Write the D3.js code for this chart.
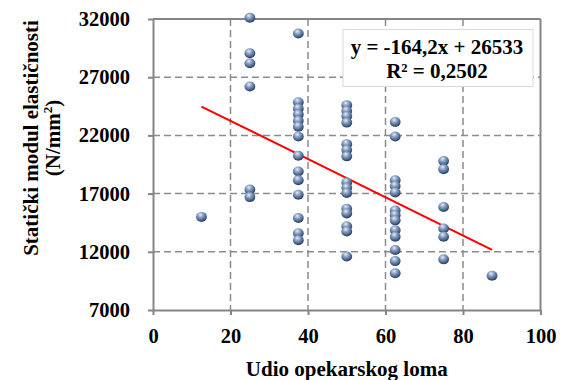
<!DOCTYPE html>
<html>
<head>
<meta charset="utf-8">
<script src="https://cdn.jsdelivr.net/npm/d3@7"></script>
<style>
  html, body { margin: 0; padding: 0; background: #fff; }
  svg { display: block; }
  text { font-family: "Liberation Serif", "Times New Roman", serif; font-weight: bold; fill: #000; }
</style>
</head>
<body>
<svg id="chart" width="562" height="380"></svg>
<script>
// ---- data ----
const udio = [
  12.5,
  25, 25, 25, 25, 25, 25,
  37.5, 37.5, 37.5, 37.5, 37.5, 37.5, 37.5, 37.5, 37.5, 37.5, 37.5, 37.5, 37.5, 37.5,
  50, 50, 50, 50, 50, 50, 50, 50, 50, 50, 50, 50, 50, 50, 50,
  62.5, 62.5, 62.5, 62.5, 62.5, 62.5, 62.5, 62.5, 62.5, 62.5, 62.5, 62.5, 62.5,
  75, 75, 75, 75, 75, 75,
  87.5
];
const modul = [
  15000,
  32100, 29050, 28200, 26200, 17350, 16700,
  30750, 24850, 24300, 23800, 23250, 22750, 21900, 20250, 18900, 18150, 16900, 14900, 13600, 13000,
  24600, 24100, 23650, 23100, 21250, 20750, 20200, 17950, 17500, 17050, 15700, 15300, 14200, 13750, 11600,
  23150, 21900, 18150, 17650, 17100, 15550, 15150, 14700, 13850, 13300, 12150, 11200, 10150,
  19800, 19100, 15850, 14000, 13300, 11350,
  9950
];
const xTicks = [0, 20, 40, 60, 80, 100];
const yTicks = [7000, 12000, 17000, 22000, 27000, 32000];
const trendSlope = -164.2;
const trendIntercept = 26533;
const eqLabel = "y = -164,2x + 26533";
const r2Label = "R² = 0,2502";
const xTitle = "Udio opekarskog loma";
const yTitle1 = "Statički modul elastičnosti";

// ---- layout ----
const W = 562, H = 380;
const m = { left: 153, right: 21.5, top: 19, bottom: 70 };
const pw = W - m.left - m.right, ph = H - m.top - m.bottom;
const svg = d3.select("#chart");
const defs = svg.append("defs");
const grad = defs.append("radialGradient").attr("id", "ball")
  .attr("cx", "42%").attr("cy", "32%").attr("r", "65%").attr("fx", "40%").attr("fy", "28%");
grad.append("stop").attr("offset", "0%").attr("stop-color", "#e8eef7");
grad.append("stop").attr("offset", "35%").attr("stop-color", "#93a9cb");
grad.append("stop").attr("offset", "75%").attr("stop-color", "#4f6a94");
grad.append("stop").attr("offset", "100%").attr("stop-color", "#2c405f");

const x = d3.scaleLinear().domain([0, 100]).range([0, pw]);
const y = d3.scaleLinear().domain([7000, 32000]).range([ph, 0]);
const g = svg.append("g").attr("transform", `translate(${m.left},${m.top})`);

// gridlines
g.append("g").selectAll("line").data(yTicks.slice(1, -1)).join("line")
  .attr("x1", 0).attr("x2", pw).attr("y1", d => y(d)).attr("y2", d => y(d))
  .attr("stroke", "#8c8c8c").attr("stroke-width", 1.5).attr("stroke-dasharray", "7,4");
g.append("g").selectAll("line").data(xTicks.slice(1, -1)).join("line")
  .attr("y1", 0).attr("y2", ph).attr("x1", d => x(d)).attr("x2", d => x(d))
  .attr("stroke", "#8c8c8c").attr("stroke-width", 1.5).attr("stroke-dasharray", "7,4");

// frame top/right
g.append("line").attr("x1", 0).attr("x2", pw).attr("y1", 0).attr("y2", 0)
  .attr("stroke", "#858585").attr("stroke-width", 2);
g.append("line").attr("x1", pw).attr("x2", pw).attr("y1", 0).attr("y2", ph)
  .attr("stroke", "#858585").attr("stroke-width", 2);

// axes
const xAxis = g.append("g").attr("transform", `translate(0,${ph})`)
  .call(d3.axisBottom(x).tickValues(xTicks).tickSize(5).tickSizeOuter(0).tickPadding(13));
const yAxis = g.append("g")
  .call(d3.axisLeft(y).tickValues(yTicks).tickSize(5).tickSizeOuter(0).tickPadding(18).tickFormat(d3.format("d")));
[xAxis, yAxis].forEach(a => {
  a.select(".domain").attr("stroke", "#858585").attr("stroke-width", 2);
  a.selectAll(".tick line").attr("stroke", "#858585").attr("stroke-width", 2);
  a.selectAll(".tick text").attr("font-size", 20.5).attr("font-family", "Liberation Serif, serif")
    .attr("font-weight", "bold").attr("fill", "#000");
});

// trend line
const xs = d3.extent(udio);
g.append("line")
  .attr("x1", x(xs[0])).attr("y1", y(trendSlope * xs[0] + trendIntercept))
  .attr("x2", x(xs[1])).attr("y2", y(trendSlope * xs[1] + trendIntercept))
  .attr("stroke", "#ff0000").attr("stroke-width", 2);

// points
g.append("g").selectAll("ellipse").data(udio.map((u, i) => [u, modul[i]])).join("ellipse")
  .attr("cx", d => x(d[0])).attr("cy", d => y(d[1]))
  .attr("rx", 5.4).attr("ry", 5)
  .attr("fill", "url(#ball)");

// equation box
const bx = 343 - m.left, by = 29.5 - m.top;
g.append("rect").attr("x", bx).attr("y", by).attr("width", 190).attr("height", 57)
  .attr("fill", "#fff").attr("stroke", "#d9d9d9").attr("stroke-width", 1);
g.append("text").attr("x", bx + 94).attr("y", by + 24.5).attr("text-anchor", "middle")
  .attr("font-size", 21).text(eqLabel);
g.append("text").attr("x", bx + 94).attr("y", by + 48).attr("text-anchor", "middle")
  .attr("font-size", 21).text(r2Label);

// axis titles
svg.append("text").attr("x", m.left + pw / 2).attr("y", 376).attr("text-anchor", "middle")
  .attr("font-size", 21).text(xTitle);
const yt = svg.append("text").attr("transform", "translate(0,138) rotate(-90)")
  .attr("text-anchor", "middle").attr("font-size", 21);
yt.append("tspan").attr("x", 0).attr("y", 38).text(yTitle1);
const l2 = yt.append("tspan").attr("x", 0).attr("y", 60);
l2.append("tspan").text("(N/mm");
l2.append("tspan").attr("dy", -8).attr("font-size", 13).text("2");
l2.append("tspan").attr("dy", 8).text(")");
</script>
</body>
</html>
